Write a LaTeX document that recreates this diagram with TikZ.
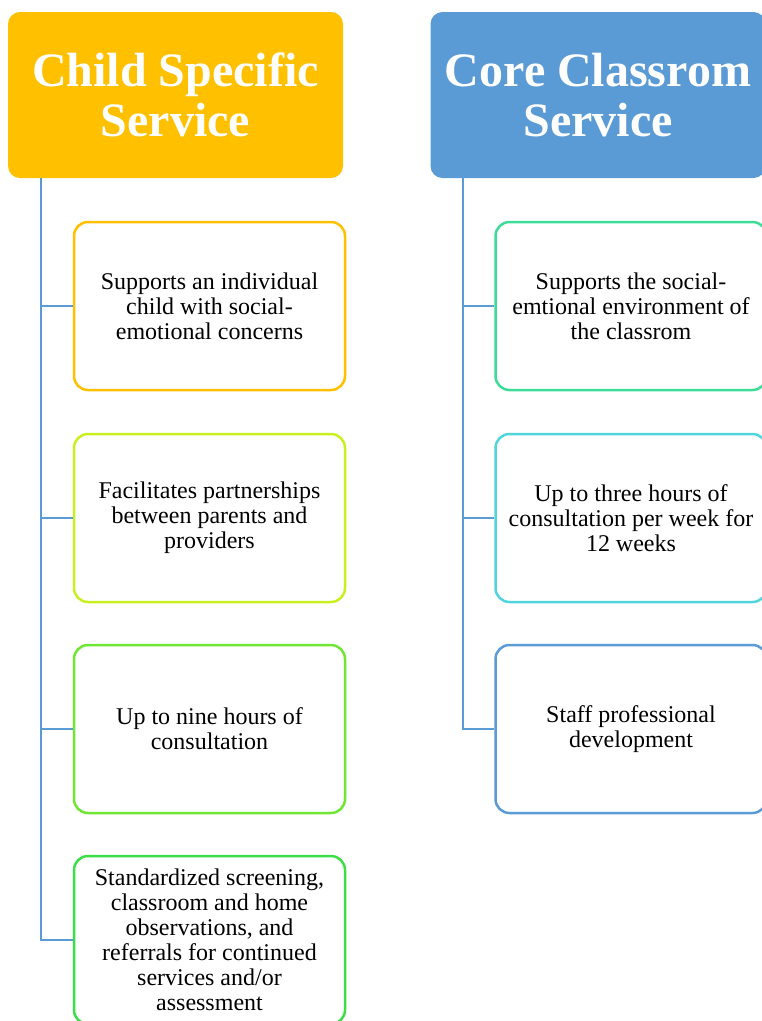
\documentclass[tikz,border=0pt]{standalone}
\usepackage{fontspec}
\setmainfont{Liberation Serif}

\definecolor{gold}{RGB}{255,192,0}
\definecolor{steel}{RGB}{91,155,213}
\definecolor{lime}{RGB}{200,240,30}
\definecolor{grass}{RGB}{110,230,50}
\definecolor{leaf}{RGB}{60,222,72}
\definecolor{mint}{RGB}{60,220,150}
\definecolor{aqua}{RGB}{80,212,222}

\begin{document}
\begin{tikzpicture}[x=1pt,y=-1pt]
\tikzset{head/.style = {shape=rectangle, rounded corners=12pt, inner sep=0pt, minimum width=335pt, minimum height=166pt, align=center, text=white, font=\fontsize{48}{50}\selectfont\bfseries}}
\tikzset{item/.style = {shape=rectangle, draw, line width=2.5pt, rounded corners=14pt, inner sep=0pt, minimum width=271pt, minimum height=168pt, align=center, font=\fontsize{24}{25}\selectfont}}
\tikzset{link/.style = {draw=steel, line width=2.5pt}}
\clip (0,0) rectangle (762,1021);
% headers
\node[head, fill=gold](h0) at (175.5,95) {Child Specific\\Service};
\node[head, fill=steel](h1) at (598,95) {Core Classrom\\Service};
% child specific column
\node[item, draw=gold](c0) at (209.5,306) {Supports an individual\\child with social-\\emotional concerns};
\node[item, draw=lime](c1) at (209.5,518) {Facilitates partnerships\\between parents and\\providers};
\node[item, draw=grass](c2) at (209.5,729) {Up to nine hours of\\consultation};
\node[item, draw=leaf](c3) at (209.5,940) {Standardized screening,\\classroom and home\\observations, and\\referrals for continued\\services and/or\\assessment};
% core classroom column
\node[item, draw=mint](r0) at (631,306) {Supports the social-\\emtional environment of\\the classrom};
\node[item, draw=aqua](r1) at (631,518) {Up to three hours of\\consultation per week for\\12 weeks};
\node[item, draw=steel](r2) at (631,729) {Staff professional\\development};
% trunks
\coordinate (t0) at (41,178);
\coordinate (t1) at (463,178);
\draw[link] (t0) |- (c3.west);
\draw[link] (c0.west -| t0) -- (c0.west);
\draw[link] (c1.west -| t0) -- (c1.west);
\draw[link] (c2.west -| t0) -- (c2.west);
\draw[link] (t1) |- (r2.west);
\draw[link] (r0.west -| t1) -- (r0.west);
\draw[link] (r1.west -| t1) -- (r1.west);
\end{tikzpicture}
\end{document}
